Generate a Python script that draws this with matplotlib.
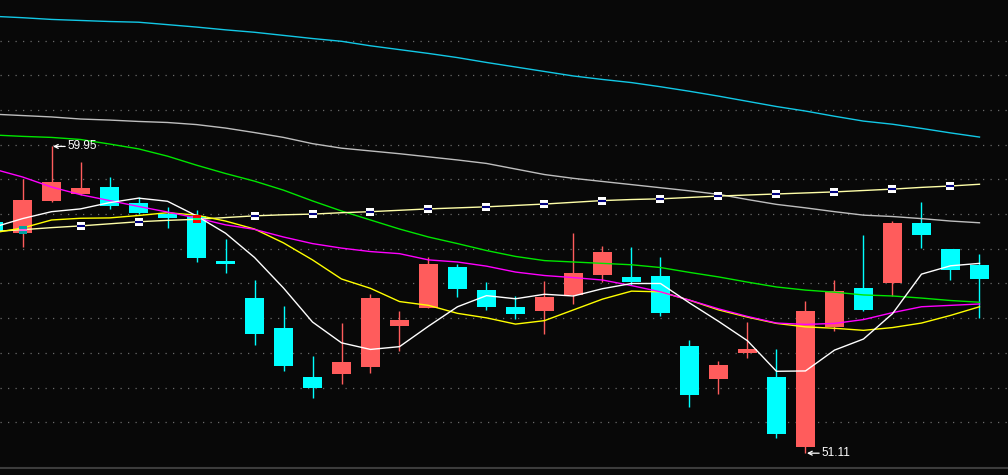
import matplotlib
matplotlib.use("Agg")
import matplotlib.pyplot as plt
from matplotlib.patches import Rectangle

# ---------------- data ----------------
opens = [57.77, 57.46, 58.38, 58.58, 58.78, 58.32, 58.00, 57.95, 56.65, 55.58,
         54.72, 53.30, 53.39, 53.59, 54.78, 55.30, 56.48, 55.81, 55.32, 55.21,
         55.67, 56.24, 56.19, 56.22, 54.20, 53.25, 54.00, 53.31, 51.29, 54.75,
         55.87, 56.01, 57.74, 56.99, 56.53]
highs = [57.90, 59.01, 59.95, 59.50, 59.07, 58.48, 58.20, 58.12, 57.28, 56.10,
         55.35, 53.91, 54.86, 55.70, 55.21, 56.76, 56.56, 56.04, 55.64, 56.07,
         57.46, 57.08, 57.05, 56.76, 54.37, 53.77, 54.89, 54.11, 55.50, 56.10,
         57.40, 57.80, 58.35, 57.00, 56.85]
lows = [57.40, 57.06, 58.36, 58.55, 58.15, 58.00, 57.60, 56.62, 56.30, 54.23,
        53.49, 52.71, 53.11, 53.43, 54.06, 55.28, 55.62, 55.24, 54.98, 54.54,
        55.41, 56.05, 55.96, 55.06, 52.44, 52.82, 53.85, 51.55, 51.11, 54.63,
        55.21, 55.64, 57.02, 56.10, 55.01]
closes = [57.48, 58.41, 58.93, 58.75, 58.23, 58.03, 57.89, 56.73, 56.56, 54.55,
          53.62, 53.00, 53.74, 55.58, 54.95, 56.56, 55.84, 55.32, 55.12, 55.61,
          56.30, 56.91, 56.04, 55.15, 52.79, 53.65, 54.11, 51.66, 55.21, 55.78,
          55.24, 57.74, 57.40, 56.39, 56.13]

ma_white = [57.62, 57.87, 58.07, 58.15, 58.33, 58.46, 58.37, 57.95, 57.45, 56.75,
            55.87, 54.89, 54.29, 54.10, 54.18, 54.77, 55.33, 55.65, 55.56, 55.69,
            55.64, 55.85, 56.00, 56.00, 55.44, 54.91, 54.35, 53.47, 53.48, 54.08,
            54.40, 55.13, 56.27, 56.51, 56.58]
ma_yellow = [57.46, 57.60, 57.83, 57.88, 57.89, 57.96, 58.04, 57.97, 57.80, 57.57,
             57.17, 56.68, 56.13, 55.86, 55.48, 55.37, 55.14, 55.01, 54.83, 54.93,
             55.24, 55.55, 55.78, 55.76, 55.52, 55.24, 55.03, 54.85, 54.75, 54.71,
             54.65, 54.73, 54.86, 55.08, 55.33]
ma_magenta = [59.30, 59.07, 58.78, 58.56, 58.39, 58.22, 58.06, 57.89, 57.69, 57.56,
              57.34, 57.15, 57.02, 56.92, 56.86, 56.68, 56.62, 56.50, 56.33, 56.23,
              56.17, 56.10, 55.94, 55.76, 55.52, 55.27, 55.05, 54.86, 54.82, 54.85,
              54.96, 55.16, 55.33, 55.37, 55.41]
ma_green = [60.28, 60.24, 60.21, 60.15, 60.02, 59.88, 59.67, 59.41, 59.17, 58.95,
            58.69, 58.38, 58.09, 57.83, 57.57, 57.34, 57.15, 56.95, 56.78, 56.66,
            56.62, 56.58, 56.54, 56.46, 56.32, 56.19, 56.04, 55.90, 55.81, 55.75,
            55.67, 55.64, 55.58, 55.51, 55.46]
ma_gray = [60.88, 60.84, 60.80, 60.74, 60.71, 60.67, 60.64, 60.58, 60.48, 60.35,
           60.21, 60.03, 59.90, 59.82, 59.74, 59.65, 59.56, 59.46, 59.30, 59.14,
           59.03, 58.94, 58.85, 58.76, 58.67, 58.57, 58.42, 58.28, 58.18, 58.07,
           57.97, 57.93, 57.87, 57.80, 57.75]
ma_cyan = [63.70, 63.66, 63.61, 63.58, 63.55, 63.53, 63.46, 63.39, 63.31, 63.24,
           63.15, 63.06, 62.98, 62.85, 62.74, 62.63, 62.51, 62.37, 62.24, 62.11,
           61.98, 61.88, 61.79, 61.67, 61.54, 61.40, 61.25, 61.10, 60.97, 60.82,
           60.68, 60.59, 60.47, 60.34, 60.22]
ma_pale = [57.50, 57.55, 57.61, 57.66, 57.72, 57.78, 57.82, 57.85, 57.90, 57.95,
           57.98, 58.00, 58.04, 58.07, 58.11, 58.15, 58.18, 58.21, 58.25, 58.29,
           58.34, 58.39, 58.42, 58.44, 58.48, 58.52, 58.55, 58.58, 58.61, 58.64,
           58.68, 58.72, 58.77, 58.81, 58.86]

high_label = "59.95"
low_label = "51.11"
grid_levels = list(range(52, 64))

# ---------------- style ----------------
BG = "#080808"
UP = "#FF5C5C"
DOWN = "#00FFFF"

fig = plt.figure(figsize=(10.08, 4.75), dpi=100, facecolor=BG)
ax = fig.add_axes([0, 7 / 475, 1, 468 / 475])
ax.set_facecolor(BG)
ax.set_xlim(0.224, 34.983)
ax.set_ylim(50.683, 64.170)

ax.set_yticks(grid_levels)
ax.set_xticks([])
ax.tick_params(left=False, labelleft=False, bottom=False, labelbottom=False)
ax.grid(axis="y", color="#6a6a6a", lw=0.9, ls=(0, (1, 5)))
ax.set_axisbelow(True)
for s in ["top", "left", "right"]:
    ax.spines[s].set_visible(False)
ax.spines["bottom"].set_color("#3c3c3c")
ax.spines["bottom"].set_linewidth(1.5)

n = len(closes)
xs = list(range(n))
w = 0.68

# candles
for i in xs:
    o, h, l, c = opens[i], highs[i], lows[i], closes[i]
    col = UP if c >= o else DOWN
    ax.vlines(i, l, h, color=col, lw=1.0, zorder=2)
    bottom = min(o, c)
    height = max(abs(c - o), 0.03)
    ax.add_patch(Rectangle((i - w / 2, bottom), w, height, facecolor=col,
                           edgecolor="none", zorder=3))

# moving-average lines
lw = 1.0
ax.plot(xs, ma_cyan, color="#12C8E6", lw=lw, zorder=4)
ax.plot(xs, ma_gray, color="#BEBEBE", lw=lw, zorder=4)
ax.plot(xs, ma_green, color="#00E600", lw=lw, zorder=4)
ax.plot(xs, ma_pale, color="#FFFFA8", lw=lw, zorder=4)
ax.plot(xs, ma_yellow, color="#FFFF00", lw=lw, zorder=5)
ax.plot(xs, ma_magenta, color="#FF00FF", lw=lw, zorder=5)
ax.plot(xs, ma_white, color="#FFFFFF", lw=lw, zorder=6)


def hex2rgb(hx):
    hx = hx.lstrip("#")
    return [int(hx[k:k + 2], 16) for k in (0, 2, 4)]


def xor_col(a, b):
    ra, rb = hex2rgb(a), hex2rgb(b)
    return "#" + "".join("%02X" % (p ^ q) for p, q in zip(ra, rb))


# square markers on the pale line (XOR-drawn over candle bodies)
for i in xs[1::2]:
    y = ma_pale[i]
    o, c = opens[i], closes[i]
    under = "#000000"
    if min(o, c) <= y <= max(o, c):
        under = UP if c >= o else DOWN
    face = xor_col("#FFFFFF", under)
    band = xor_col("#000080", under)
    ax.plot(i, y, marker="s", ms=5.4, mfc=face, mec=face, mew=0, ls="none", zorder=7)
    ax.plot(i, y, marker="_", ms=5.4, mec=band, mew=1.5, ls="none", zorder=8)

# high / low labels
i_hi = highs.index(max(highs))
i_lo = lows.index(min(lows))
for idx, val, txt in [(i_hi, highs[i_hi], high_label), (i_lo, lows[i_lo], low_label)]:
    ax.annotate(txt, xy=(idx + 0.05, val), xytext=(15, 0), textcoords="offset pixels",
                color="white", fontsize=8.5, family="Liberation Sans",
                va="center", ha="left", zorder=9,
                arrowprops=dict(arrowstyle="->", color="white", lw=0.9,
                                shrinkA=0, shrinkB=0, mutation_scale=7))

fig.savefig("out.png", dpi=100, facecolor=BG)
